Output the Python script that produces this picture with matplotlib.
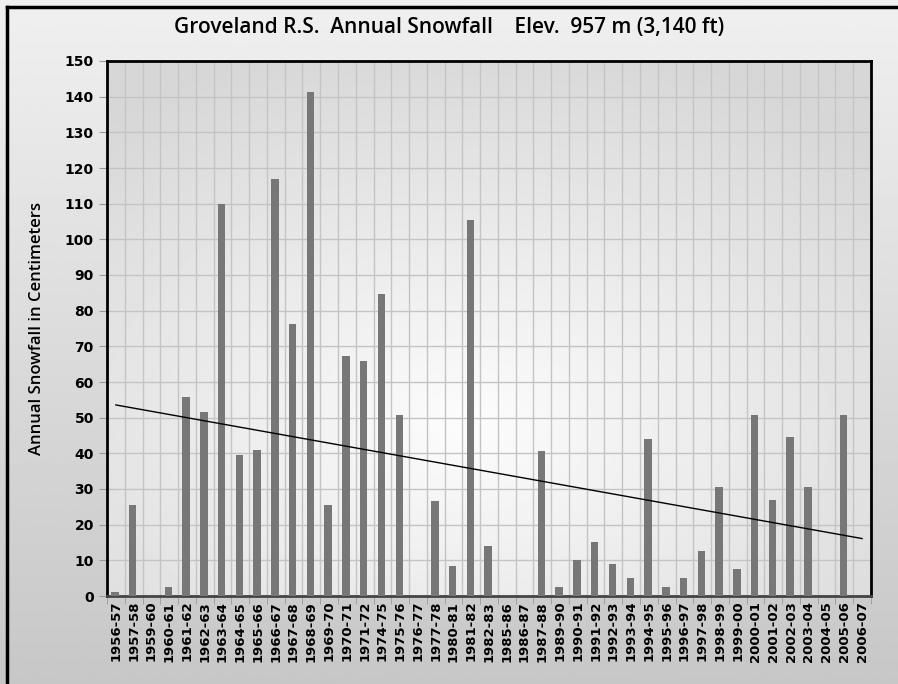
import numpy as np
import matplotlib
matplotlib.use("Agg")
import matplotlib.pyplot as plt
from matplotlib.lines import Line2D

seasons = ["1956-57", "1957-58", "1959-60", "1960-61", "1961-62", "1962-63",
           "1963-64", "1964-65", "1965-66", "1966-67", "1967-68", "1968-69",
           "1969-70", "1970-71", "1971-72", "1974-75", "1975-76", "1976-77",
           "1977-78", "1980-81", "1981-82", "1982-83", "1985-86", "1986-87",
           "1987-88", "1989-90", "1990-91", "1991-92", "1992-93", "1993-94",
           "1994-95", "1995-96", "1996-97", "1997-98", "1998-99", "1999-00",
           "2000-01", "2001-02", "2002-03", "2003-04", "2004-05", "2005-06",
           "2006-07"]
snow_cm = [1.2, 25.4, 0, 2.5, 55.8, 51.5,
           110.0, 39.4, 40.8, 116.8, 76.2, 141.2,
           25.4, 67.3, 66.0, 84.8, 50.8, 0,
           26.7, 8.4, 105.4, 14.0, 0, 0,
           40.6, 2.5, 10.2, 15.2, 8.9, 5.1,
           43.9, 2.5, 5.1, 12.7, 30.5, 7.6,
           50.8, 26.9, 44.5, 30.5, 0, 50.8,
           0]
yticks = list(range(0, 151, 10))

W, H = 898, 684
fig = plt.figure(figsize=(W / 100, H / 100), dpi=100)

# figure background: vertical grey gradient
bg = fig.add_axes([0, 0, 1, 1], zorder=-10)
grad = np.linspace(0.94, 0.78, 256).reshape(-1, 1)
bg.imshow(grad, cmap="gray", vmin=0, vmax=1, aspect="auto", extent=[0, 1, 0, 1])
bg.set_xlim(0, 1)
bg.set_ylim(0, 1)
bg.axis("off")
# black frame top and left
bg.add_line(Line2D([7 / W, 7 / W], [0, 1 - 7 / H], color="black", lw=2.5))
bg.add_line(Line2D([7 / W, 1], [1 - 7 / H, 1 - 7 / H], color="black", lw=2.5))

x0, x1, y0, y1 = 107, 871, 61, 596
ax = fig.add_axes([x0 / W, 1 - y1 / H, (x1 - x0) / W, (y1 - y0) / H])

n = len(seasons)
x = np.arange(n)

# radial gradient inside plot area
gx, gy = np.meshgrid(np.linspace(0, 1, 300), np.linspace(0, 1, 300))
r = np.sqrt(((gx - 0.47) / 0.75) ** 2 + ((gy - 0.32) / 0.75) ** 2)
shade = 0.99 - 0.15 * np.clip(r, 0, 1)
ax.imshow(shade, cmap="gray", vmin=0, vmax=1, aspect="auto",
          extent=[-0.5, n - 0.5, 150, 0], zorder=0)

ax.bar(x - 0.05, snow_cm, width=0.42, color="#777777", zorder=3)

coef = np.polyfit(x, snow_cm, 1)
ax.plot(x, np.polyval(coef, x), color="black", lw=1.0, zorder=4)

ax.set_xlim(-0.5, n - 0.5)
ax.set_ylim(0, 150)
ax.set_yticks(yticks)
ax.set_xticks(x)
ax.set_xticklabels(seasons, rotation=90, fontsize=9.5, fontweight="bold")
ax.set_xticks(np.arange(n + 1) - 0.5, minor=True)
ax.tick_params(axis="x", which="major", length=0)
ax.tick_params(axis="x", which="minor", length=6, color="#999999")
ax.tick_params(axis="y", length=6, color="#999999", labelsize=10)
for lab in ax.get_yticklabels():
    lab.set_fontweight("bold")
ax.grid(True, which="minor", axis="x", color="#c4c4c4", lw=1.0, zorder=1)
ax.grid(True, which="major", axis="y", color="#c4c4c4", lw=1.0, zorder=1)

for side in ["left", "top", "right"]:
    ax.spines[side].set_linewidth(2.0)
    ax.spines[side].set_color("black")
ax.spines["bottom"].set_linewidth(2.0)
ax.spines["bottom"].set_color("#444444")

ax.set_ylabel("Annual Snowfall in Centimeters", fontsize=12, family="Open Sans",
              fontweight="semibold", labelpad=14)
fig.text(0.5, 1 - 28 / H, "Groveland R.S.  Annual Snowfall    Elev.  957 m (3,140 ft)",
         ha="center", va="center", fontsize=15, family="Open Sans",
         fontweight="semibold")

fig.savefig("out.png", dpi=100)
